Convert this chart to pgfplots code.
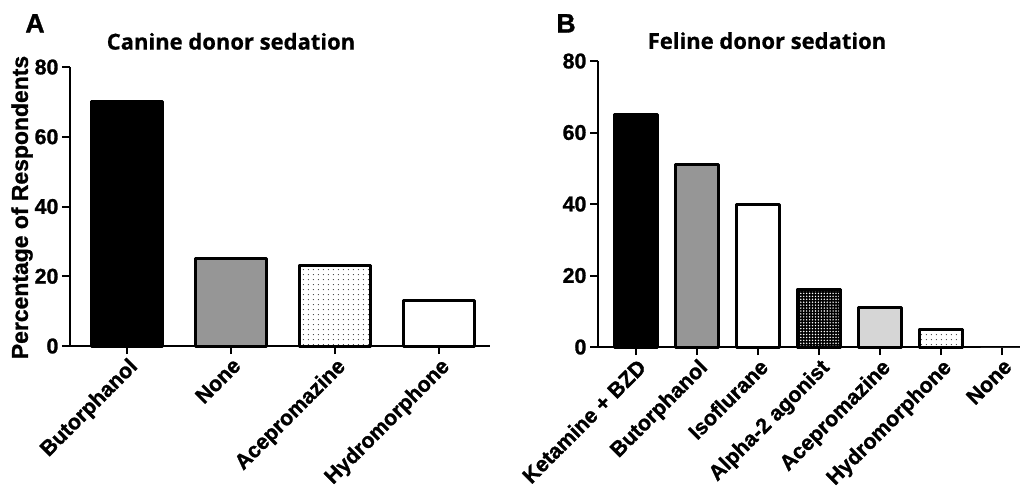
\documentclass[border=0pt]{standalone}
\usepackage{pgfplots}
\pgfplotsset{compat=1.18}
\usepackage{fontspec}
\setmainfont{Liberation Sans}
\newfontfamily\heavy{Liberation Sans Bold}[FakeBold=1.2]
\newfontfamily\titlefont{Open Sans Bold}[FakeBold=0.6]
\usetikzlibrary{patterns.meta}
\definecolor{midgray}{HTML}{969696}
\definecolor{lightgray2}{HTML}{D6D6D6}
\pgfplotsset{
  panel/.style={
    scale only axis,
    axis x line*=bottom, axis y line*=left,
    axis line style={line width=1.5pt, black},
    ymin=0, ymax=80, ytick={0,20,40,60,80},
    tick style={line width=1.5pt, black},
    major tick length=6pt,
    tick align=outside,
    /pgf/number format/assume math mode=true,
    yticklabel style={font=\heavy\fontsize{16}{16}\selectfont, inner sep=1pt, xshift=-1.5pt},
    xticklabel style={font=\heavy\fontsize{16}{16}\selectfont, rotate=45, anchor=north east, inner sep=1pt, yshift=-0.5pt},
    clip=false,
  },
  bb/.style={ybar, bar shift=0pt, draw=black, line width=2.25pt, line join=round},
}
\begin{document}
\begin{tikzpicture}
\useasboundingbox (0,0) rectangle (767.25pt,-365.25pt);
% Panel A
\begin{axis}[panel, at={(52.5pt,-259.5pt)}, anchor=south west,
  width=315pt, height=209.25pt,
  xmin=-0.548, xmax=3.49, xtick={0,1,2,3},
  xticklabels={Butorphanol,None,Acepromazine,Hydromorphone}]
\addplot[bb, bar width=0.69, fill=black] coordinates {(0,70)};
\addplot[bb, bar width=0.69, fill=midgray] coordinates {(1,25)};
\addplot[bb, bar width=0.69, fill=white, postaction={pattern={Dots[distance=4pt, radius=0.5pt]}, pattern color=black!75}] coordinates {(2,23)};
\addplot[bb, bar width=0.69, fill=white] coordinates {(3,13)};
\end{axis}
% Panel B
\begin{axis}[panel, at={(448.5pt,-260.25pt)}, anchor=south west,
  width=316.5pt, height=214.5pt,
  xmin=-0.623, xmax=6.295, xtick={0,1,2,3,4,5,6},
  xticklabels={Ketamine + BZD,Butorphanol,Isoflurane,Alpha-2 agonist,Acepromazine,Hydromorphone,None}]
\addplot[bb, bar width=0.70, fill=black] coordinates {(0,65)};
\addplot[bb, bar width=0.70, fill=midgray] coordinates {(1,51)};
\addplot[bb, bar width=0.70, fill=white] coordinates {(2,40)};
\addplot[bb, bar width=0.70, fill=black, postaction={pattern={Dots[distance=2.2pt, radius=0.6pt]}, pattern color=white}] coordinates {(3,16)};
\addplot[bb, bar width=0.70, fill=lightgray2] coordinates {(4,11)};
\addplot[bb, bar width=0.70, fill=white, postaction={pattern={Dots[distance=4pt, radius=0.5pt]}, pattern color=black!75}] coordinates {(5,5)};
\addplot[bb, bar width=0.70, fill=white, draw=none] coordinates {(6,0)};
\end{axis}
% labels
\node[font=\heavy\fontsize{17.2}{17.2}\selectfont, rotate=90] at (16.5pt,-155.6pt) {Percentage of Respondents};
\node[font=\titlefont\fontsize{16.5}{16.5}\selectfont] at (173.25pt,-31pt) {Canine donor sedation};
\node[font=\titlefont\fontsize{16.5}{16.5}\selectfont] at (575.25pt,-30.5pt) {Feline donor sedation};
\node[font=\heavy\fontsize{20}{20}\selectfont] at (26.25pt,-17.5pt) {A};
\node[font=\heavy\fontsize{20}{20}\selectfont] at (424.5pt,-17.5pt) {B};
\end{tikzpicture}
\end{document}
